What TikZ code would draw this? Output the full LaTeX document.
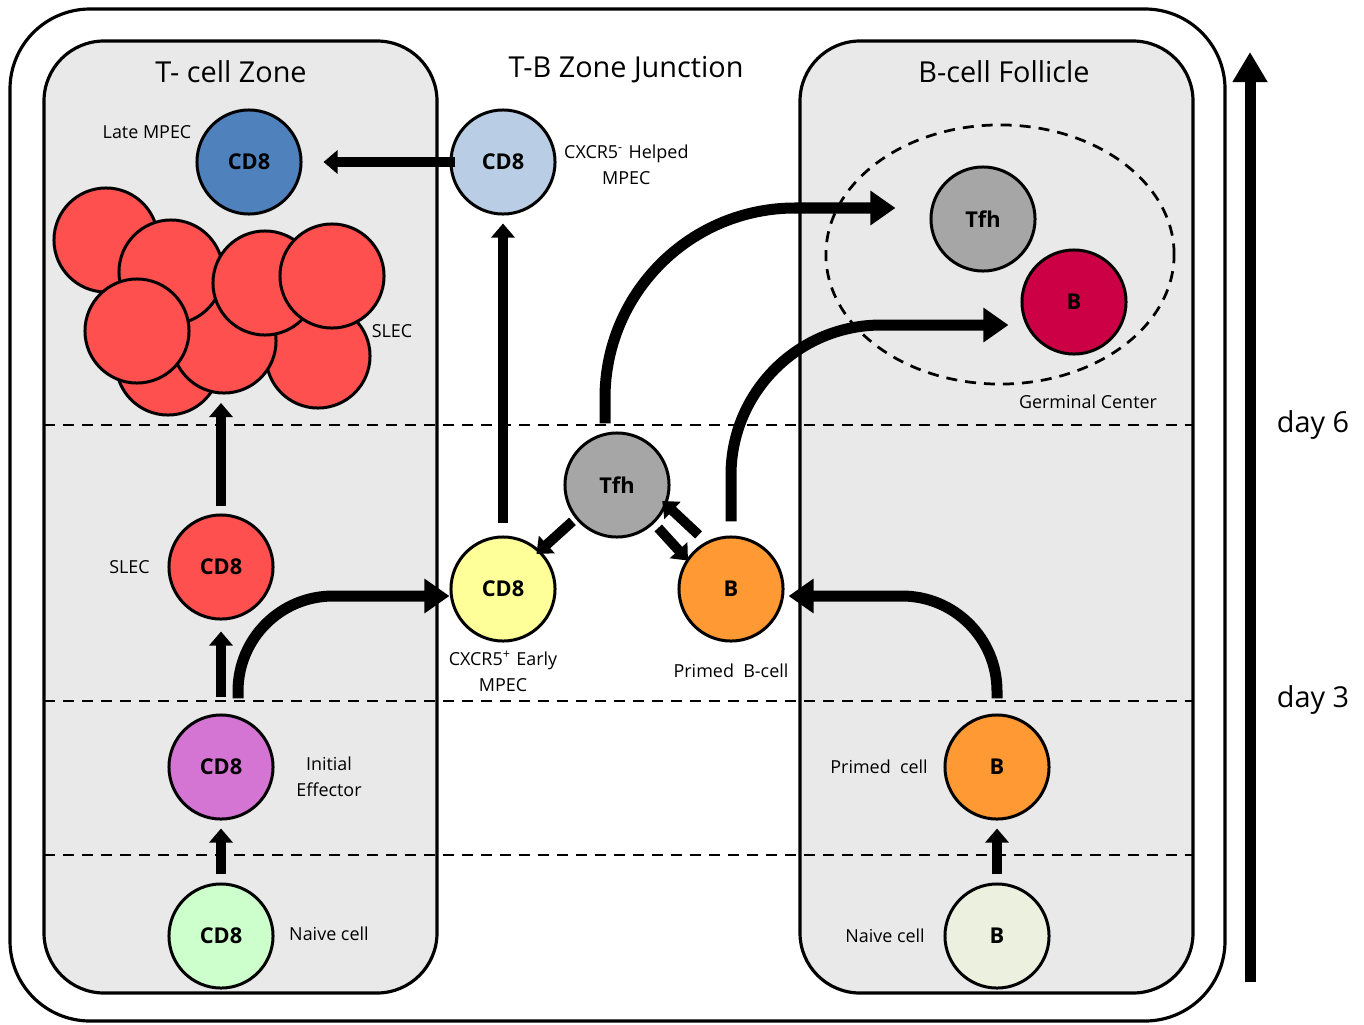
\documentclass[tikz,border=0pt]{standalone}
\usepackage{fontspec}
\setmainfont{Open Sans}
\usepackage{xcolor}
\usepackage{tikz}
\usetikzlibrary{arrows.meta, positioning, shapes.geometric}

\definecolor{zonegray}{RGB}{233,233,233}
\definecolor{lateblue}{RGB}{79,129,189}
\definecolor{helpblue}{RGB}{185,205,229}
\definecolor{slecred}{RGB}{255,80,80}
\definecolor{effpink}{RGB}{212,117,212}
\definecolor{naivegreen}{RGB}{204,255,204}
\definecolor{earlyyellow}{RGB}{255,255,153}
\definecolor{tfhgray}{RGB}{166,166,166}
\definecolor{primedorange}{RGB}{255,153,51}
\definecolor{gcred}{RGB}{204,0,68}
\definecolor{naivebeige}{RGB}{235,241,222}

\begin{document}
\begin{tikzpicture}[
    x=0.01cm, y=-0.01cm,
    zone/.style={draw, line width=0.9pt, fill=zonegray, rounded corners=0.6cm},
    cell/.style={circle, draw, line width=0.85pt, minimum size=1.04cm, inner sep=0pt, font=\bfseries\fontsize{6.2}{7}\selectfont},
    lbl/.style={inner sep=0pt, align=center, font=\fontsize{5.1}{7.4}\selectfont},
    title/.style={inner sep=0pt, font=\fontsize{8.2}{10}\selectfont},
    stage/.style={dash pattern=on 0.11cm off 0.08cm, line width=0.78pt},
    arr/.style={line width=0.1cm, -{Triangle[width=0.23cm, length=0.14cm]}},
    bigarr/.style={line width=0.11cm, -{Triangle[width=0.33cm, length=0.25cm]}}
]
\useasboundingbox (0,0) rectangle (1364,1024);

% Zones
\draw[line width=0.9pt, rounded corners=0.8cm] (10,9) rectangle (1225,1021);
\draw[zone] (44,41) rectangle (437,993);
\draw[zone] (800,41) rectangle (1193,993);
\node[title] (tzone) at (231,72) {T- cell Zone};
\node[title] (junction) at (626,70) {T-B Zone Junction};
\node[title] (bzone) at (1004,72) {B-cell Follicle};

% Time stages
\foreach \y in {425,701,855}
    \draw[stage] (44,\y) -- (1193,\y);
\draw[stage] (1000,254.5) ellipse [x radius=1.74cm, y radius=1.295cm];

% SLEC clump
\foreach \cx/\cy [count=\i] in {168/363, 318/356, 224/341, 106/240, 171/272, 137/331, 265/283, 332/276}
    \node[cell, fill=slecred] (clump\i) at (\cx,\cy) {};

% Nodes
\node[cell, fill=lateblue] (late) at (249,162) {CD8};
\node[cell, fill=helpblue] (helped) at (503,162) {CD8};
\node[cell, fill=slecred] (slec) at (221,567) {CD8};
\node[cell, fill=effpink] (init) at (221,767) {CD8};
\node[cell, fill=naivegreen] (naivet) at (221,936) {CD8};
\node[cell, fill=earlyyellow] (early) at (503,589) {CD8};
\node[cell, fill=tfhgray] (tfh) at (617,485) {Tfh};
\node[cell, fill=primedorange] (primedb) at (731,589) {B};
\node[cell, fill=primedorange] (primedc) at (997,767) {B};
\node[cell, fill=naivebeige] (naiveb) at (997,936) {B};
\node[cell, fill=tfhgray] (gctfh) at (983,219) {Tfh};
\node[cell, fill=gcred] (gcb) at (1074,302) {B};

% Labels
\node[lbl] (latelbl) at (147,132) {Late MPEC};
\node[lbl, right=0.07cm of helped, yshift=-0.03cm] (helpedlbl) {CXCR5\textsuperscript{-} Helped\\MPEC};
\node[lbl] (clumplbl) at (392,331) {SLEC};
\node[lbl, left=0.21cm of slec, xshift=0.04cm] (sleclbl) {SLEC};
\node[lbl] (initlbl) at (329,777) {Initial\\Effector};
\node[lbl, right=0.17cm of naivet, xshift=-0.03cm, yshift=0.02cm] (naivetlbl) {Naive cell};
\node[lbl, below=0.08cm of early] (earlylbl) {CXCR5\textsuperscript{+} Early\\MPEC};
\node[lbl, below=0.21cm of primedb] (primedblbl) {Primed~~B-cell};
\node[lbl] (gclbl) at (1088,402) {Germinal Center};
\node[lbl, left=0.15cm of primedc] (primedclbl) {Primed~~cell};
\node[lbl, left=0.18cm of naiveb] (naiveblbl) {Naive cell};
\node[title] (day6) at (1313,425) {day 6};
\node[title] (day3) at (1313,700) {day 3};

% Connections
\coordinate (clumpbase) at (221,403);
\draw[arr, shorten <=-0.06cm, shorten >=0.21cm] (helped) -- (late);
\draw[arr, shorten <=0.12cm, shorten >=0.08cm] (early) -- (helped);
\draw[arr, shorten <=0.07cm] (slec) -- (clumpbase);
\draw[arr, shorten <=0.16cm, shorten >=0.11cm] (init) -- (slec);
\draw[arr, shorten <=0.08cm, shorten >=0.08cm] (naivet) -- (init);
\draw[arr, shorten <=0.08cm, shorten >=0.08cm] (naiveb) -- (primedc);
\draw[bigarr, rounded corners=0.95cm] ([xshift=0.17cm, yshift=0.15cm]init.north) |- ([yshift=-0.07cm]early.west);
\draw[bigarr, rounded corners=0.95cm] ([yshift=0.15cm]primedc.north) |- ([xshift=0.04cm, yshift=-0.07cm]primedb.east);
\draw[bigarr, rounded corners=1.9cm] ([xshift=-0.12cm, yshift=0.08cm]tfh.north) |- ([xshift=-0.34cm, yshift=0.11cm]gctfh.west);
\draw[bigarr, rounded corners=1.5cm, shorten >=0.12cm] ([yshift=0.14cm]primedb.north) |- ([yshift=-0.23cm]gcb.west);
\draw[arr, shorten <=0.04cm, shorten >=-0.05cm] (tfh.-141) -- (early.46);
\draw[arr, shorten <=0.06cm, shorten >=-0.02cm] (tfh.-46) -- (primedb.146);
\draw[arr, shorten <=0.1cm, shorten >=-0.06cm] (primedb.118) -- (tfh.-22);

% Time axis
\coordinate (tbase) at (1250,982);
\coordinate (ttop) at (1250,52);
\draw[line width=0.11cm, -{Triangle[width=0.33cm, length=0.3cm]}] (tbase) -- (ttop);

\end{tikzpicture}
\end{document}
